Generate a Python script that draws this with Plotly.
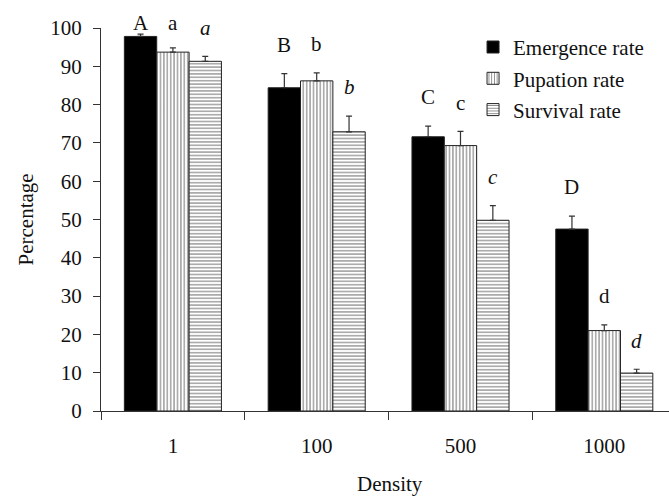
import plotly.graph_objects as go

# Rearing density groups and the three measured rates (%), with standard errors
densities = ["1", "100", "500", "1000"]

emergence = [97.8, 84.4, 71.6, 47.5]
emergence_se = [0.6, 3.7, 2.8, 3.4]
pupation = [93.7, 86.2, 69.3, 21.0]
pupation_se = [1.1, 2.1, 3.7, 1.5]
survival = [91.3, 72.9, 49.8, 9.9]
survival_se = [1.3, 4.1, 3.8, 1.0]

# Significance letters for each rate
emergence_letters = ["A", "B", "C", "D"]
pupation_letters = ["a", "b", "c", "d"]
survival_letters = ["a", "b", "c", "d"]

FONT = "Liberation Serif, Times New Roman, serif"
INK = "#111111"
PX_PER_UNIT = 383 / 100  # plot height in px over the 0-100 range

fig = go.Figure()


def add_rate(name, values, errors, pattern):
    fig.add_trace(go.Bar(
        name=name,
        x=densities,
        y=values,
        legendgroup=name,
        marker=dict(
            color="white" if pattern else "black",
            line=dict(color="#222222", width=1),
            pattern=dict(shape=pattern, fgcolor="#111111", bgcolor="white",
                         size=3.4, solidity=0.35) if pattern else None,
        ),
        error_y=dict(type="data", array=errors, arrayminus=[0] * len(errors),
                     symmetric=False, color="#333333", thickness=1.2, width=3),
    ))


add_rate("Emergence rate", emergence, emergence_se, "")
add_rate("Pupation rate", pupation, pupation_se, "|")
add_rate("Survival rate", survival, survival_se, "-")

# Letters sit a little above each error bar; ones that would land above the
# axis top are pinned at 100 and lifted in pixels so they are still drawn
offsets = [-0.225, 0.0, 0.225]
series = [
    (emergence, emergence_se, emergence_letters, False),
    (pupation, pupation_se, pupation_letters, False),
    (survival, survival_se, survival_letters, True),
]
annotations = []
for k, (vals, ses, letters, italic) in enumerate(series):
    for i, (v, s, t) in enumerate(zip(vals, ses, letters)):
        target = min(v + s + 7.5, 101.2)
        y = min(target, 100)
        annotations.append(dict(
            x=i + offsets[k], y=y, xref="x", yref="y",
            yshift=(target - y) * PX_PER_UNIT,
            text=f"<i>{t}</i>" if italic else t,
            showarrow=False, yanchor="middle", xanchor="center",
            font=dict(family=FONT, size=21, color=INK),
        ))

# Axis titles
annotations.append(dict(text="Percentage", x=-(101 - 25) / 568, y=0.5,
                        xref="paper", yref="paper",
                        xanchor="center", yanchor="middle", textangle=-90, showarrow=False,
                        font=dict(family=FONT, size=21, color=INK)))
annotations.append(dict(text="Density", x=(390 - 101) / 568, y=-(484 - 411) / 383,
                        xref="paper", yref="paper", xanchor="center", yanchor="middle",
                        showarrow=False, font=dict(family=FONT, size=21, color=INK)))

fig.update_layout(
    width=669, height=497,
    margin=dict(l=101, r=0, t=28, b=86, pad=0),
    paper_bgcolor="white", plot_bgcolor="white",
    barmode="group", bargap=0.325, bargroupgap=0,
    font=dict(family=FONT, size=21, color=INK),
    showlegend=True,
    legend=dict(x=0.655, y=1.003, xanchor="left", yanchor="top",
                traceorder="grouped", tracegroupgap=1,
                bgcolor="rgba(0,0,0,0)", font=dict(family=FONT, size=21, color=INK)),
    annotations=annotations,
)

fig.update_xaxes(
    type="category", range=[-0.5, 3.45],
    showline=True, linecolor="#333333", linewidth=1,
    ticks="outside", ticklen=8, tickcolor="#333333", tickson="boundaries",
    ticklabelstandoff=16,
    showgrid=False, zeroline=False,
    tickfont=dict(family=FONT, size=21, color=INK),
)
fig.update_yaxes(
    range=[0, 100], dtick=10,
    showline=True, linecolor="#333333", linewidth=1,
    ticks="outside", ticklen=7, tickcolor="#333333",
    ticklabelstandoff=7,
    showgrid=False, zeroline=False,
    tickfont=dict(family=FONT, size=21, color=INK),
)

fig.write_html("out.html")
